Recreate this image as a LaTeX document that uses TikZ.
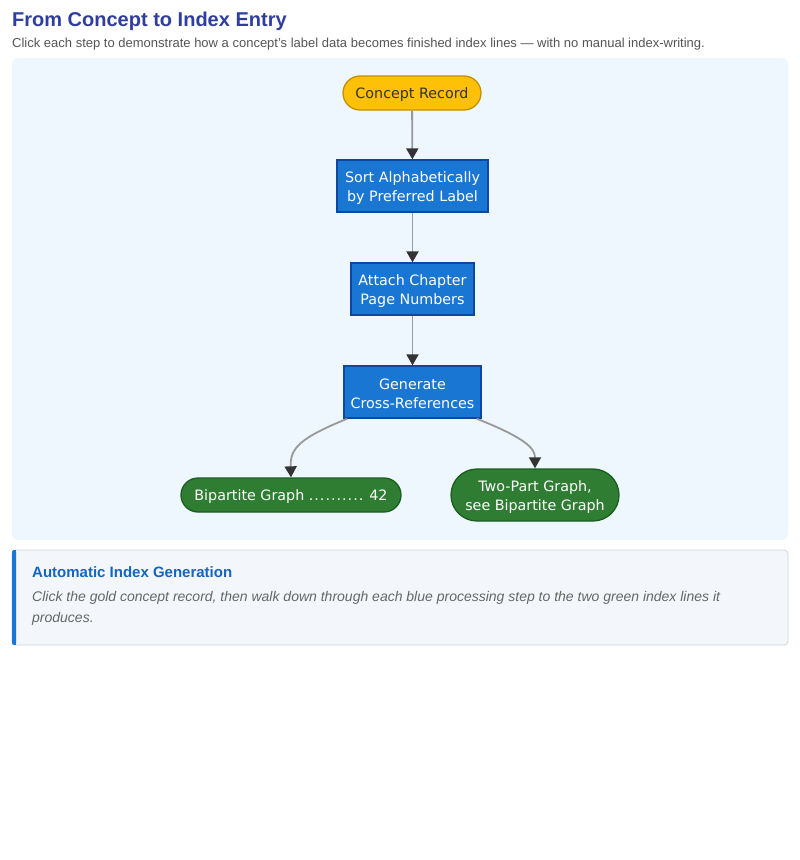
\documentclass[tikz,border=0pt]{standalone}
\usepackage{fontspec}
\setmainfont{Liberation Sans}
\newfontfamily\diagfont{DejaVu Sans}
\usetikzlibrary{arrows.meta,calc}
\definecolor{titleblue}{HTML}{2F3E9E}
\definecolor{subgray}{HTML}{555555}
\definecolor{panelbg}{HTML}{EEF6FE}
\definecolor{gold}{HTML}{FFC107}
\definecolor{goldborder}{HTML}{C29100}
\definecolor{stepblue}{HTML}{1976D2}
\definecolor{stepborder}{HTML}{0D47A1}
\definecolor{leafgreen}{HTML}{2E7D32}
\definecolor{leafborder}{HTML}{1B5E20}
\definecolor{edgegray}{HTML}{999999}
\definecolor{tipdark}{HTML}{333333}
\definecolor{notebg}{HTML}{F3F6FA}
\definecolor{noteborder}{HTML}{D0D7DE}
\definecolor{notetitle}{HTML}{1565C0}
\definecolor{notetext}{HTML}{666666}
\tikzset{
  dfont/.style={font=\diagfont\fontsize{14.3}{19}\selectfont},
  stepbox/.style={draw=stepborder, line width=1.3pt, fill=stepblue, text=white,
    dfont, align=center, inner sep=0pt, text height=33.5pt},
  startnode/.style={draw=goldborder, line width=1.3pt, fill=gold, text=tipdark,
    rounded corners=17pt, dfont, inner sep=0pt, text height=13pt},
  leafnode/.style={draw=leafborder, line width=1.3pt, fill=leafgreen, text=white,
    dfont, align=center, inner sep=0pt},
  flow/.style={draw=edgegray, line width=1.8pt,
    -{Triangle[width=12pt,length=11pt,color=tipdark]}},
}
\begin{document}
\begin{tikzpicture}[x=1pt,y=-1pt]
\useasboundingbox[fill=white] (0,0) rectangle (800,860);
% header
\node[anchor=base west, inner sep=0pt, text=titleblue, font=\bfseries\fontsize{20}{24}\selectfont] (title) at (12,26) {From Concept to Index Entry};
\node[anchor=base west, inner sep=0pt, text=subgray, font=\fontsize{13}{15}\selectfont] (subtitle) at (12,47) {Click each step to demonstrate how a concept's label data becomes finished index lines — with no manual index-writing.};
% panel
\fill[panelbg, rounded corners=6pt] (12,58) rectangle (788,540);
% nodes
\node[startnode, minimum width=138pt, minimum height=34pt] (concept) at (412,93) {Concept Record};
\node[stepbox, minimum width=151pt, minimum height=52pt] (sort) at (412.5,186) {Sort Alphabetically\\by Preferred Label};
\node[stepbox, minimum width=123pt, minimum height=52pt] (attach) at (412.5,289) {Attach Chapter\\Page Numbers};
\node[stepbox, minimum width=137pt, minimum height=52pt] (gen) at (412.5,392) {Generate\\Cross-References};
\node[leafnode, rounded corners=17pt, minimum width=220pt, minimum height=34pt, text height=13pt] (bip) at (291,495) {Bipartite Graph .\kern1pt.\kern1pt.\kern1pt.\kern1pt.\kern1pt.\kern1pt.\kern1pt.\kern1pt.\kern1pt. 42};
\node[leafnode, rounded corners=26pt, minimum width=168pt, minimum height=52pt, text height=33.5pt] (two) at (535,495) {Two-Part Graph,\\see Bipartite Graph};
% connectors
\draw[flow] (concept) -- (sort);
\draw[flow] (sort) -- (attach);
\draw[flow] (attach) -- (gen);
\coordinate (gl) at ($(gen.south west)+(4,0)$);
\coordinate (gr) at ($(gen.south east)+(-5,0)$);
\draw[flow] (gl) .. controls (300,438) and (290,448) .. (bip.north);
\draw[flow] (gr) .. controls (525,438) and (535,448) .. (two.north);
% note box
\draw[noteborder, fill=notebg, rounded corners=4pt, line width=0.8pt] (12,550) rectangle (788,645);
\fill[stepblue, rounded corners=2pt] (12,550) rectangle (16,645);
\fill[stepblue] (14,550) rectangle (16,645);
\node[anchor=base west, inner sep=0pt, text=notetitle, font=\bfseries\fontsize{15}{18}\selectfont] (notehead) at (32,577) {Automatic Index Generation};
\node[anchor=base west, inner sep=0pt, text=notetext, font=\itshape\fontsize{14}{17}\selectfont] (note1) at (32,601) {Click the gold concept record, then walk down through each blue processing step to the two green index lines it};
\node[anchor=base west, inner sep=0pt, text=notetext, font=\itshape\fontsize{14}{17}\selectfont] (note2) at (32,622) {produces.};
\end{tikzpicture}
\end{document}
